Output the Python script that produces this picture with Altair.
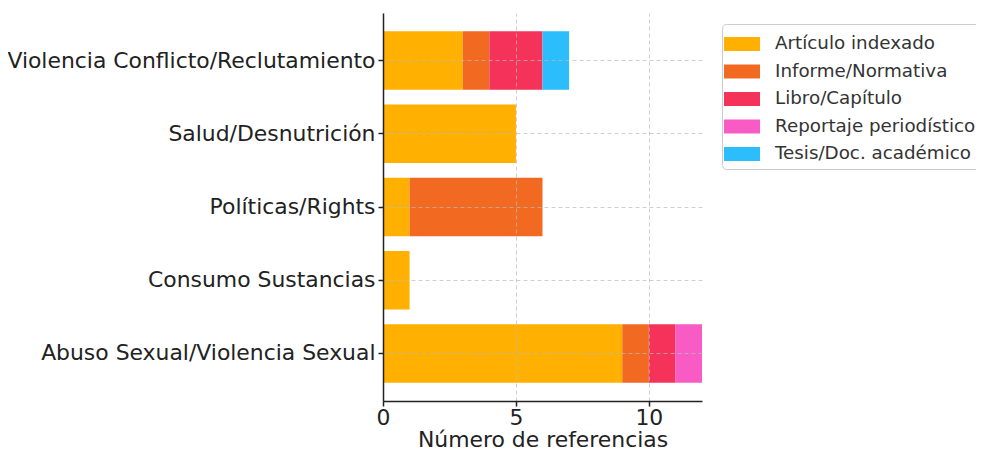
import altair as alt
import pandas as pd

categories = [
    "Violencia Conflicto/Reclutamiento",
    "Salud/Desnutrición",
    "Políticas/Rights",
    "Consumo Sustancias",
    "Abuso Sexual/Violencia Sexual",
]
types = [
    "Artículo indexado",
    "Informe/Normativa",
    "Libro/Capítulo",
    "Reportaje periodístico",
    "Tesis/Doc. académico",
]
colors = ["#FFB000", "#F26A22", "#F5325A", "#F95BC4", "#2BBDFC"]

# values per type, aligned with categories
articulo = [3, 5, 1, 1, 9]
informe = [1, 0, 5, 0, 1]
libro = [2, 0, 0, 0, 1]
reportaje = [0, 0, 0, 0, 1]
tesis = [1, 0, 0, 0, 0]

series = [articulo, informe, libro, reportaje, tesis]
rows = []
for t_i, (t, vals) in enumerate(zip(types, series)):
    for c, v in zip(categories, vals):
        rows.append({"categoria": c, "tipo": t, "orden": t_i, "n": v})
df = pd.DataFrame(rows)

font = "DejaVu Sans"
fs = 21.9

chart = (
    alt.Chart(df)
    .mark_bar()
    .encode(
        y=alt.Y(
            "categoria:N",
            sort=categories,
            scale=alt.Scale(paddingInner=0.2, paddingOuter=0.25),
            axis=alt.Axis(
                title=None,
                labelFontSize=fs,
                labelColor="#222222",
                labelFont=font,
                labelPadding=3,
                tickSize=5,
                tickColor="#222222",
                tickWidth=1.5,
                domainColor="#222222",
                domainWidth=1.5,
                grid=True,
                gridDash=[4, 3],
                gridColor="#bbbbbb",
                gridOpacity=0.7,
                bandPosition=0.5,
                zindex=1,
                labelLimit=600,
            ),
        ),
        x=alt.X(
            "n:Q",
            stack="zero",
            scale=alt.Scale(domain=[0, 12], nice=False),
            axis=alt.Axis(
                title="Número de referencias",
                titleFontSize=fs,
                titleFont=font,
                titleFontWeight="normal",
                titleColor="#222222",
                titlePadding=2,
                values=[0, 5, 10],
                labelFontSize=fs,
                labelFont=font,
                labelColor="#222222",
                labelPadding=1,
                labelFlush=False,
                tickSize=5,
                tickColor="#222222",
                tickWidth=1.5,
                domainColor="#222222",
                domainWidth=1.5,
                grid=True,
                gridDash=[4, 3],
                gridColor="#bbbbbb",
                gridOpacity=0.7,
                zindex=1,
            ),
        ),
        color=alt.Color(
            "tipo:N",
            sort=types,
            scale=alt.Scale(domain=types, range=colors),
            legend=alt.Legend(
                title=None,
                orient="none",
                legendX=339,
                legendY=11,
                symbolType="M-1.3,-0.5H1.3V0.5H-1.3Z",
                symbolSize=767,
                symbolStrokeWidth=0,
                labelFontSize=18.3,
                labelFont=font,
                labelColor="#333333",
                labelLimit=400,
                rowPadding=4.5,
                labelOffset=19,
                padding=6,
                strokeColor="#cccccc",
                cornerRadius=4,
                fillColor="white",
            ),
        ),
        order=alt.Order("orden:Q"),
    )
    .properties(
        width=319,
        height=388,
        autosize=alt.AutoSizeParams(type="none"),
        padding={"left": 375, "top": 5, "right": 274, "bottom": 52},
    )
    .configure_view(stroke=None)
)

chart.save("out.html", embed_options={"renderer": "svg", "actions": False})
